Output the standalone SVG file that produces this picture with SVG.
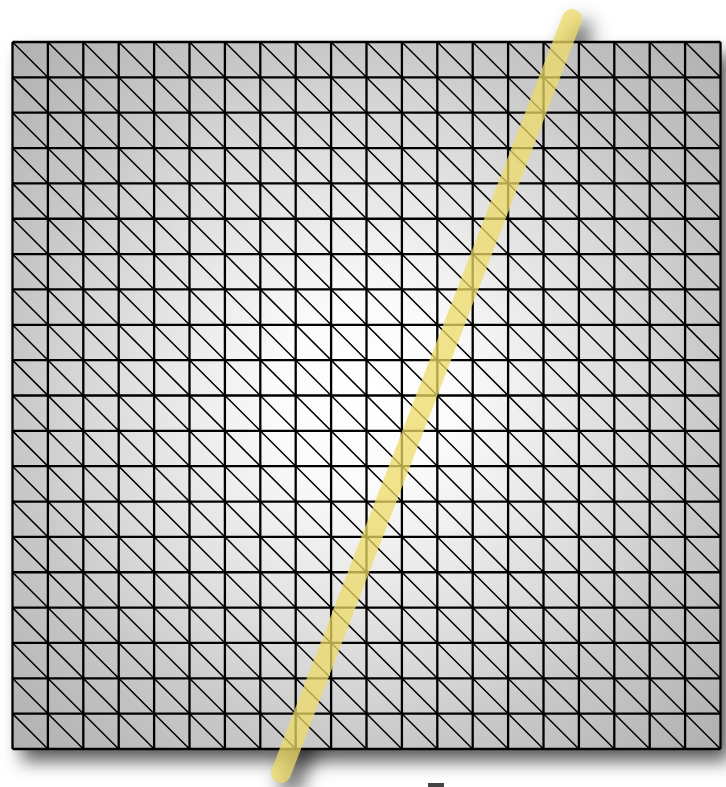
<svg xmlns="http://www.w3.org/2000/svg" width="726" height="787" viewBox="0 0 726 787">
<defs>
<radialGradient id="g" gradientUnits="userSpaceOnUse" cx="366" cy="395" r="500">
<stop offset="0" stop-color="#ffffff"/>
<stop offset="0.18" stop-color="#fbfbfb"/>
<stop offset="0.43" stop-color="#e4e4e4"/>
<stop offset="0.6" stop-color="#d4d4d4"/>
<stop offset="0.68" stop-color="#cacaca"/>
<stop offset="1" stop-color="#b0b0b0"/>
</radialGradient>
<filter id="s" x="-10%" y="-10%" width="125%" height="125%">
<feDropShadow dx="9" dy="12" stdDeviation="9" flood-color="#000" flood-opacity="0.65"/>
</filter>
<filter id="b" filterUnits="userSpaceOnUse" x="240" y="0" width="400" height="787">
<feGaussianBlur stdDeviation="10"/>
</filter>
<style>
.grid{fill:none;stroke:#000;stroke-width:2.3}
.diag{fill:none;stroke:#000;stroke-width:1.5}
.line{fill:none;stroke-width:20;stroke-linecap:round}
</style>
</defs>
<rect width="726" height="787" fill="#fff"/>
<path class="line" d="M581 31L290 785" stroke="#000" stroke-opacity="0.65" filter="url(#b)"/>
<g id="mesh">
<rect x="12.5" y="42" width="708" height="707" fill="url(#g)" filter="url(#s)"/>
<path class="diag" d="M12.5 42L720.5 749M47.9 42L720.5 713.65M83.3 42L720.5 678.3M118.7 42L720.5 642.95M154.1 42L720.5 607.6M189.5 42L720.5 572.25M224.9 42L720.5 536.9M260.3 42L720.5 501.55M295.7 42L720.5 466.2M331.1 42L720.5 430.85M366.5 42L720.5 395.5M401.9 42L720.5 360.15M437.3 42L720.5 324.8M472.7 42L720.5 289.45M508.1 42L720.5 254.1M543.5 42L720.5 218.75M578.9 42L720.5 183.4M614.3 42L720.5 148.05M649.7 42L720.5 112.7M685.1 42L720.5 77.35M12.5 77.35L685.1 749M12.5 112.7L649.7 749M12.5 148.05L614.3 749M12.5 183.4L578.9 749M12.5 218.75L543.5 749M12.5 254.1L508.1 749M12.5 289.45L472.7 749M12.5 324.8L437.3 749M12.5 360.15L401.9 749M12.5 395.5L366.5 749M12.5 430.85L331.1 749M12.5 466.2L295.7 749M12.5 501.55L260.3 749M12.5 536.9L224.9 749M12.5 572.25L189.5 749M12.5 607.6L154.1 749M12.5 642.95L118.7 749M12.5 678.3L83.3 749M12.5 713.65L47.9 749"/>
<path class="grid" d="M12.5 42V749M47.9 42V749M83.3 42V749M118.7 42V749M154.1 42V749M189.5 42V749M224.9 42V749M260.3 42V749M295.7 42V749M331.1 42V749M366.5 42V749M401.9 42V749M437.3 42V749M472.7 42V749M508.1 42V749M543.5 42V749M578.9 42V749M614.3 42V749M649.7 42V749M685.1 42V749M720.5 42V749M12.5 42H720.5M12.5 77.35H720.5M12.5 112.7H720.5M12.5 148.05H720.5M12.5 183.4H720.5M12.5 218.75H720.5M12.5 254.1H720.5M12.5 289.45H720.5M12.5 324.8H720.5M12.5 360.15H720.5M12.5 395.5H720.5M12.5 430.85H720.5M12.5 466.2H720.5M12.5 501.55H720.5M12.5 536.9H720.5M12.5 572.25H720.5M12.5 607.6H720.5M12.5 642.95H720.5M12.5 678.3H720.5M12.5 713.65H720.5M12.5 749H720.5"/>
</g>
<g id="connectors">
<path class="line" d="M572 19L281 773" stroke="#eedb66" stroke-opacity="0.75"/>
</g>
<rect x="428" y="783" width="16" height="4" fill="#444"/>
</svg>
